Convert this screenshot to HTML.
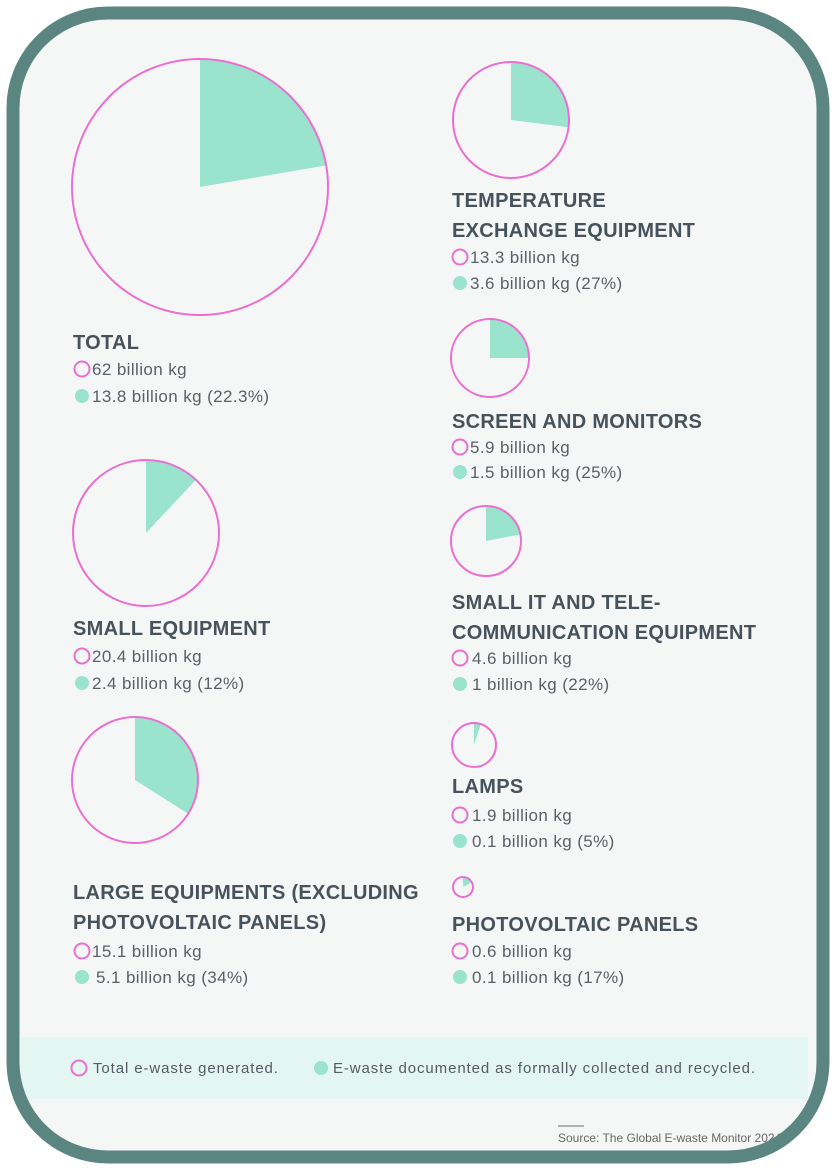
<!DOCTYPE html>
<html><head><meta charset="utf-8"><style>
html,body{margin:0;padding:0;background:#fff;}
svg{display:block;font-family:"Liberation Sans",sans-serif;}
.t{font-size:20px;font-weight:bold;fill:#48525a;letter-spacing:0.3px;}
.l{font-size:17px;fill:#5a6066;letter-spacing:0.4px;}
.g{font-size:15px;fill:#555b60;letter-spacing:0.9px;}
</style></head><body>
<svg width="836" height="1172" viewBox="0 0 836 1172">
<defs><clipPath id="c"><rect x="13" y="13" width="810" height="1144" rx="95"/></clipPath></defs>
<rect x="13" y="13" width="810" height="1144" rx="95" fill="#f5f7f7"/>
<g clip-path="url(#c)">
<g fill="#9ae3cd" stroke="none">
<path d="M200 187 L200 59 A128 128 0 0 1 326.2 165.4 Z"/>
<path d="M511 120 L511 62 A58 58 0 0 1 568.5 127.3 Z"/>
<path d="M490 358 L490 319 A39 39 0 0 1 529 358 Z"/>
<path d="M486 541 L486 506 A35 35 0 0 1 520.4 534.4 Z"/>
<path d="M474 745 L474 723 A22 22 0 0 1 480.8 724.1 Z"/>
<path d="M463 887 L463 877 A10 10 0 0 1 471.8 882.2 Z"/>
<path d="M146 533 L146 460 A73 73 0 0 1 196 479.8 Z"/>
<path d="M135 780 L135 717 A63 63 0 0 1 188.2 813.8 Z"/>
</g>
<g fill="none" stroke="#ea6fd0" stroke-width="2">
<circle cx="200" cy="187" r="128"/>
<circle cx="511" cy="120" r="58"/>
<circle cx="490" cy="358" r="39"/>
<circle cx="486" cy="541" r="35"/>
<circle cx="474" cy="745" r="22"/>
<circle cx="463" cy="887" r="10"/>
<circle cx="146" cy="533" r="73"/>
<circle cx="135" cy="780" r="63"/>
</g>
<g fill="none" stroke="#ea6fd0" stroke-width="2">
<circle cx="82" cy="369" r="7.5"/><circle cx="460" cy="257" r="7.5"/><circle cx="460" cy="447" r="7.5"/>
<circle cx="460" cy="658" r="7.5"/><circle cx="460" cy="815" r="7.5"/><circle cx="460" cy="951" r="7.5"/>
<circle cx="82" cy="656" r="7.5"/><circle cx="82" cy="951" r="7.5"/>
</g>
<g fill="#9ae3cd">
<circle cx="82" cy="396" r="7"/><circle cx="460" cy="283" r="7"/><circle cx="460" cy="472" r="7"/>
<circle cx="460" cy="684" r="7"/><circle cx="460" cy="841" r="7"/><circle cx="460" cy="977" r="7"/>
<circle cx="82" cy="683" r="7"/><circle cx="82" cy="977" r="7"/>
</g>
<text class="t" x="73" y="349">TOTAL</text>
<text class="l" x="92" y="375">62 billion kg</text>
<text class="l" x="92" y="402">13.8 billion kg (22.3%)</text>
<text class="t" x="452" y="207">TEMPERATURE</text>
<text class="t" x="452" y="237">EXCHANGE EQUIPMENT</text>
<text class="l" x="470" y="263">13.3 billion kg</text>
<text class="l" x="470" y="289">3.6 billion kg (27%)</text>
<text class="t" x="452" y="428">SCREEN AND MONITORS</text>
<text class="l" x="470" y="453">5.9 billion kg</text>
<text class="l" x="470" y="478">1.5 billion kg (25%)</text>
<text class="t" x="452" y="609">SMALL IT AND TELE-</text>
<text class="t" x="452" y="639">COMMUNICATION EQUIPMENT</text>
<text class="l" x="472" y="664">4.6 billion kg</text>
<text class="l" x="472" y="690">1 billion kg (22%)</text>
<text class="t" x="452" y="793">LAMPS</text>
<text class="l" x="472" y="821">1.9 billion kg</text>
<text class="l" x="472" y="847">0.1 billion kg (5%)</text>
<text class="t" x="452" y="931">PHOTOVOLTAIC PANELS</text>
<text class="l" x="472" y="957">0.6 billion kg</text>
<text class="l" x="472" y="983">0.1 billion kg (17%)</text>
<text class="t" x="73" y="635">SMALL EQUIPMENT</text>
<text class="l" x="92" y="662">20.4 billion kg</text>
<text class="l" x="92" y="689">2.4 billion kg (12%)</text>
<text class="t" x="73" y="899">LARGE EQUIPMENTS (EXCLUDING</text>
<text class="t" x="73" y="929">PHOTOVOLTAIC PANELS)</text>
<text class="l" x="92" y="957">15.1 billion kg</text>
<text class="l" x="96" y="983">5.1 billion kg (34%)</text>
<rect x="21" y="1037" width="787" height="62" fill="#e3f6f1"/>
<circle cx="79" cy="1068" r="7.5" fill="none" stroke="#ea6fd0" stroke-width="2"/>
<circle cx="321" cy="1068" r="7" fill="#9ae3cd"/>
<text class="g" x="93" y="1073">Total e-waste generated.</text>
<text class="g" x="333" y="1073">E-waste documented as formally collected and recycled.</text>
<line x1="558" y1="1126" x2="584" y2="1126" stroke="#999" stroke-width="1.5"/>
<text x="558" y="1142" style="font-size:12px;fill:#666">Source: The Global E-waste Monitor 2024</text>
</g>
<rect x="13" y="13" width="810" height="1144" rx="95" fill="none" stroke="#5a8580" stroke-width="13"/>
</svg>
</body></html>
